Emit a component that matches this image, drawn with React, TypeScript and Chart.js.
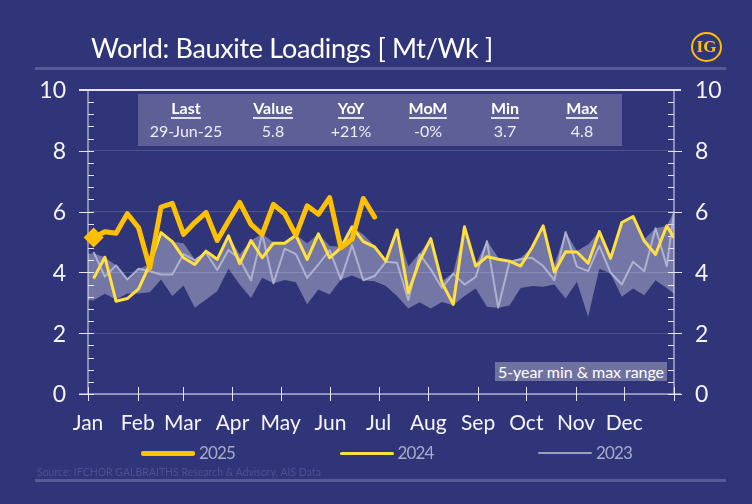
import { useEffect, useRef } from "react"
import { Chart, registerables } from "chart.js"

Chart.register(...registerables)

const monthLabels = ["Jan", "Feb", "Mar", "Apr", "May", "Jun", "Jul", "Aug", "Sep", "Oct", "Nov", "Dec"]
const monthStartDays = [0, 31, 59, 90, 120, 151, 181, 212, 243, 273, 304, 334, 365]
const yTicks = [0, 2, 4, 6, 8, 10]

const values2025 = [5.15, 5.34, 5.29, 5.93, 5.47, 4.15, 6.15, 6.27, 5.25, 5.64, 5.97, 5.05, 5.69, 6.3, 5.58, 5.25, 6.24, 5.93, 5.22, 6.19, 5.91, 6.46, 4.81, 5.09, 6.43, 5.82]
const values2024 = [3.8, 4.5, 3.05, 3.14, 3.46, 4.26, 5.31, 5.01, 4.48, 4.26, 4.7, 4.43, 5.2, 4.29, 5.05, 4.48, 4.96, 4.96, 5.22, 4.43, 5.27, 4.48, 4.81, 5.5, 5.01, 4.84, 4.37, 5.4, 3.33, 4.37, 5.11, 3.66, 2.95, 5.5, 4.21, 4.52, 4.43, 4.37, 4.21, 4.81, 5.53, 4.01, 4.68, 4.67, 4.3, 5.34, 4.46, 5.64, 5.84, 5.03, 4.59, 5.53, 5.14]
const values2023 = [4.67, 3.86, 4.23, 3.77, 4.12, 4.04, 3.93, 3.93, 4.6, 4.4, 4.65, 4.08, 4.74, 4.43, 3.74, 5.27, 3.64, 4.78, 4.6, 3.82, 4.26, 4.73, 3.77, 4.9, 3.74, 3.88, 4.35, 4.32, 3.09, 4.6, 4.1, 3.49, 3.96, 3.6, 3.85, 5.03, 2.84, 4.34, 4.43, 4.48, 4.21, 3.75, 5.33, 4.19, 4.04, 4.87, 3.99, 3.6, 4.35, 4.04, 5.45, 4.21, 6.0]
const rangeMax = [4.62, 4.5, 4.23, 3.79, 4.12, 4.26, 5.31, 5.01, 4.96, 4.43, 4.7, 4.45, 5.2, 4.59, 5.05, 5.27, 4.98, 4.98, 5.25, 4.95, 5.27, 4.87, 4.84, 5.5, 5.25, 4.87, 4.37, 5.4, 4.19, 4.63, 5.11, 3.71, 3.99, 5.5, 4.26, 5.05, 4.48, 4.37, 4.48, 4.81, 5.53, 4.26, 5.33, 4.7, 4.92, 5.34, 4.48, 5.64, 5.84, 5.09, 5.45, 5.53, 6.0]
const rangeMin = [3.08, 3.3, 3.11, 3.31, 3.31, 3.35, 3.77, 3.22, 3.57, 2.84, 3.11, 3.38, 4.12, 3.6, 3.16, 3.82, 3.64, 3.75, 3.68, 2.95, 3.44, 3.27, 3.77, 3.9, 3.74, 3.71, 3.55, 3.22, 2.81, 3.02, 2.81, 3.03, 2.92, 3.22, 3.47, 2.87, 2.84, 2.91, 3.49, 3.55, 3.53, 3.6, 3.14, 3.69, 2.54, 4.12, 3.96, 3.2, 3.47, 3.25, 3.74, 3.49, 3.3]

const tableHeaders = ["Last", "Value", "YoY", "MoM", "Min", "Max"]
const tableValues = ["29-Jun-25", "5.8", "+21%", "-0%", "3.7", "4.8"]
const tableCentres = [48, 135, 213, 290, 367, 444]

const legendItems = [
  { label: "2025", color: "#ffc000", height: 5 },
  { label: "2024", color: "#ffe040", height: 3 },
  { label: "2023", color: "#9c9fc0", height: 2 },
]

const BG = "#30357a"
const FONT = "Lato, sans-serif"

// each week sits mid-way through its 7 days, the last one is cut at year end
const weekPoints = (values: number[]) => values.map((y, i) => ({ x: Math.min(3.5 + 7 * i, 365), y }))

const frame = {
  id: "frame",
  beforeDatasetsDraw(chart: Chart) {
    const { ctx, chartArea: a, scales } = chart
    const y = scales.y
    const x = scales.x
    ctx.save()
    ctx.strokeStyle = "#e4e5f0"
    ctx.lineWidth = 1
    const line = (x1: number, y1: number, x2: number, y2: number) => {
      ctx.beginPath()
      ctx.moveTo(x1, y1)
      ctx.lineTo(x2, y2)
      ctx.stroke()
    }
    line(a.left, a.top, a.left, a.bottom)
    line(a.right, a.top, a.right, a.bottom)
    line(a.left - 9, a.bottom, a.right + 7, a.bottom)
    ctx.lineWidth = 2
    line(a.left - 9, a.top, a.right + 7, a.top)
    ctx.lineWidth = 1
    for (let v = 0; v < 50; v++) {
      const tick = v / 5
      const py = Math.round(y.getPixelForValue(tick)) + 0.5
      if (v % 10 === 0) {
        line(a.left - 9, py, a.left + 6, py)
        line(a.right - 6, py, a.right + 8, py)
      } else if (v % 2 === 0) {
        line(a.left, py, a.left + 6, py)
        line(a.right - 6, py, a.right, py)
      }
    }
    monthStartDays.forEach((d) => {
      const px = Math.round(x.getPixelForValue(d)) + 0.5
      line(px, a.bottom - 7, px, a.bottom + 7)
    })
    ctx.restore()
  },
}

export default function App() {
  const canvasRef = useRef<HTMLCanvasElement>(null)
  const chartRef = useRef<Chart | null>(null)

  useEffect(() => {
    if (!canvasRef.current) return
    const ctx = canvasRef.current.getContext("2d")
    if (!ctx) return

    chartRef.current = new Chart(ctx, {
      type: "line",
      data: {
        datasets: [
          {
            label: "2025",
            data: weekPoints(values2025),
            borderColor: "#ffc000",
            borderWidth: 5,
            borderJoinStyle: "round",
            borderCapStyle: "round",
            pointStyle: "rectRot",
            pointRadius: values2025.map((_, i) => (i === 0 ? 10 : 0)),
            pointBackgroundColor: "#ffc000",
            pointBorderWidth: 0,
            clip: false,
            order: 1,
          },
          {
            label: "2024",
            data: weekPoints(values2024),
            borderColor: "#ffe040",
            borderWidth: 3,
            borderJoinStyle: "round",
            pointRadius: 0,
            order: 2,
          },
          {
            label: "2023",
            data: weekPoints(values2023),
            borderColor: "rgba(190,192,216,0.8)",
            borderWidth: 2,
            borderJoinStyle: "round",
            pointRadius: 0,
            order: 3,
          },
          {
            label: "Max",
            data: [{ x: 0, y: rangeMax[0] }, ...weekPoints(rangeMax)],
            borderWidth: 0,
            pointRadius: 0,
            backgroundColor: "rgba(255,255,255,0.33)",
            fill: "+1",
            order: 4,
          },
          {
            label: "Min",
            data: [{ x: 0, y: rangeMin[0] }, ...weekPoints(rangeMin)],
            borderWidth: 0,
            pointRadius: 0,
            order: 5,
          },
        ],
      },
      options: {
        animation: false,
        responsive: false,
        devicePixelRatio: 1,
        layout: { padding: { top: 90 } },
        plugins: { legend: { display: false }, title: { display: false }, tooltip: { enabled: false } },
        scales: {
          x: {
            type: "linear",
            min: 0,
            max: 365,
            afterFit: (s) => {
              s.height = 110
            },
            afterBuildTicks: (s) => {
              s.ticks = monthStartDays.slice(0, 12).map((value) => ({ value }))
            },
            grid: { display: false },
            border: { display: false },
            ticks: {
              autoSkip: false,
              maxRotation: 0,
              padding: 9,
              color: "#f4f4fa",
              font: { family: FONT, size: 21 },
              callback: (value) => monthLabels[monthStartDays.indexOf(Number(value))],
            },
          },
          y: {
            position: "left",
            min: 0,
            max: 10,
            afterFit: (s) => {
              s.width = 88
            },
            afterBuildTicks: (s) => {
              s.ticks = yTicks.map((value) => ({ value }))
            },
            grid: { color: "rgba(255,255,255,0.14)", drawTicks: false },
            border: { display: false },
            ticks: { padding: 22, labelOffset: 1, color: "#f4f4fa", font: { family: FONT, size: 23 } },
          },
          y2: {
            position: "right",
            min: 0,
            max: 10,
            afterFit: (s) => {
              s.width = 78
            },
            afterBuildTicks: (s) => {
              s.ticks = yTicks.map((value) => ({ value }))
            },
            grid: { display: false, drawTicks: false },
            border: { display: false },
            ticks: { padding: 21, labelOffset: 1, color: "#f4f4fa", font: { family: FONT, size: 23 } },
          },
        },
      },
      plugins: [frame],
    })

    return () => {
      chartRef.current?.destroy()
    }
  }, [])

  return (
    <div style={{ position: "absolute", left: 0, top: 0, width: 752, height: 504, background: BG, overflow: "hidden", fontFamily: FONT }}>
      <canvas ref={canvasRef} width={752} height={504} style={{ position: "absolute", left: 0, top: 0 }} />

      <div style={{ position: "absolute", left: 91, top: 30, fontSize: 27, letterSpacing: -0.32, lineHeight: "36px", color: "#fff", whiteSpace: "nowrap" }}>
        World: Bauxite Loadings [ Mt/Wk ]
      </div>
      <div style={{ position: "absolute", left: 35, top: 67, width: 691, height: 3, background: "#565b96" }} />

      <div style={{ position: "absolute", left: 691, top: 32, width: 31, height: 30, border: "2.5px solid #ffc000", borderRadius: "50%", boxSizing: "border-box", color: "#ffc000", fontFamily: "'Liberation Serif', serif", fontWeight: 700, fontSize: 17, lineHeight: "25px", textAlign: "center" }}>
        IG
      </div>

      <div style={{ position: "absolute", left: 138, top: 94, width: 484, height: 52, background: "#5e5f96" }}>
        {tableHeaders.map((h, i) => (
          <div key={h} style={{ position: "absolute", left: tableCentres[i] - 45, top: 4, width: 90, textAlign: "center", color: "#fff", fontSize: 16, lineHeight: "20px" }}>
            <span style={{ fontWeight: 700, borderBottom: "2px solid #dfe0ee" }}>{h}</span>
            <div style={{ marginTop: 3, fontSize: 16, lineHeight: "20px", color: "#eeeef6" }}>{tableValues[i]}</div>
          </div>
        ))}
      </div>

      <div style={{ position: "absolute", left: 495, top: 362, width: 172, height: 19, background: "#6f729f", color: "#fff", fontSize: 16, letterSpacing: -0.05, lineHeight: "19px", textAlign: "center", whiteSpace: "nowrap" }}>
        5-year min &amp; max range
      </div>

      {legendItems.map((item, i) => (
        <div key={item.label} style={{ position: "absolute", left: 141 + i * 198.5, top: 442, height: 22, width: 100 }}>
          <div style={{ position: "absolute", left: 0, top: 11 - item.height / 2, width: 54, height: item.height, borderRadius: 2, background: item.color }} />
          <div style={{ position: "absolute", left: 58, top: 0, fontSize: 17, letterSpacing: -0.9, lineHeight: "22px", color: "#a9abc9" }}>{item.label}</div>
        </div>
      ))}

      <div style={{ position: "absolute", left: 37, top: 464, fontSize: 10.5, lineHeight: "16px", color: "#4c5190", whiteSpace: "nowrap" }}>
        Source: IFCHOR GALBRAITHS  Research &amp; Advisory, AIS Data
      </div>
      <div style={{ position: "absolute", left: 35, top: 479, width: 691, height: 3, background: "#565b96" }} />
    </div>
  )
}
